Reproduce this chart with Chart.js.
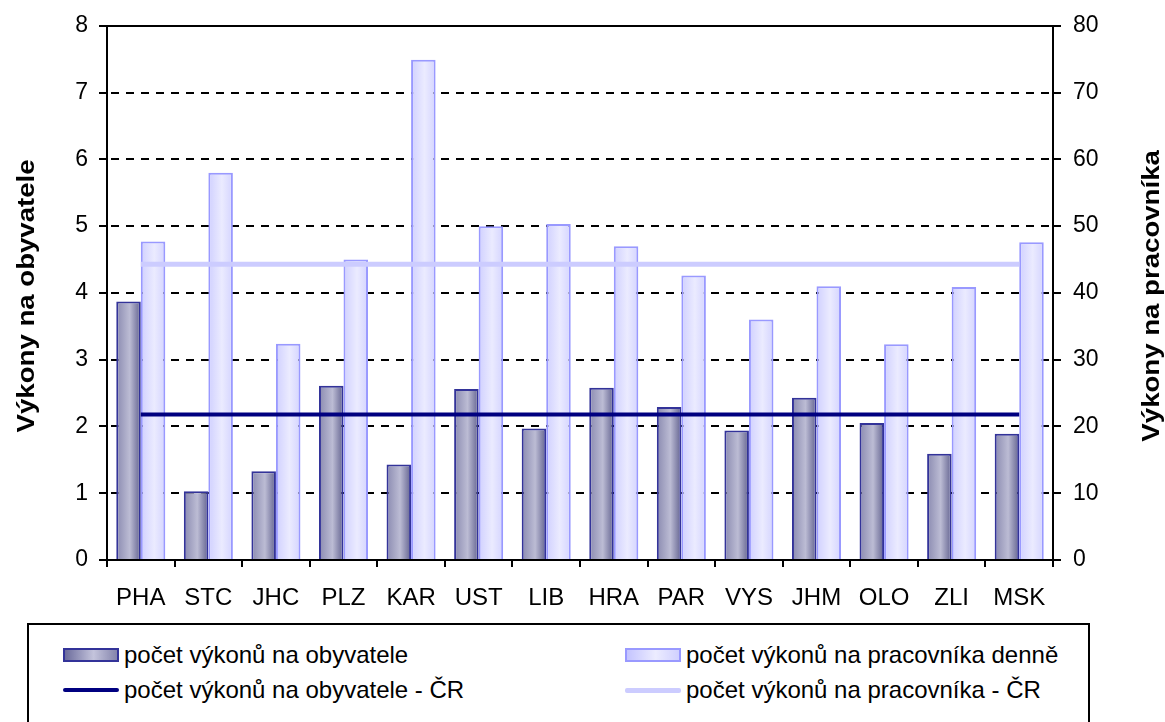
<!DOCTYPE html>
<html>
<head>
<meta charset="utf-8">
<script src="https://cdn.jsdelivr.net/npm/chart.js@4/dist/chart.umd.min.js"></script>
<style>
  body { margin: 0; background: #fff; }
  #wrap { position: relative; width: 1165px; height: 722px; overflow: hidden; }
  #legend { position: absolute; left: 27px; top: 623px; width: 1059px; height: 110px;
            border: 2px solid #000; background: #fff;
            font-family: "Liberation Sans", Arial, sans-serif; font-size: 24px; color: #000; }
  .item { position: absolute; display: flex; align-items: center; height: 30px; white-space: nowrap; }
  .sw { width: 56px; margin-right: 5px; box-sizing: border-box; }
  .barDark { height: 14px; border: 2px solid #333399; background: linear-gradient(to right, #6c6c9c, #c4c4dc 55%, #8484ac); }
  .barLight { height: 14px; border: 2px solid #9999ff; background: linear-gradient(to right, #c4c4ff, #ececff 55%, #d0d0ff); }
  .lineDark { height: 4px; background: #000080; border-radius: 2px; }
  .lineLight { height: 5px; background: #ccccff; border-radius: 2px; }
</style>
</head>
<body>
<div id="wrap">
  <canvas id="myChart" width="1165" height="722"></canvas>
  <div id="legend">
    <div class="item" style="left:34px; top:15px;"><div class="sw barDark"></div>počet výkonů na obyvatele</div>
    <div class="item" style="left:596px; top:15px;"><div class="sw barLight"></div>počet výkonů na pracovníka denně</div>
    <div class="item" style="left:34px; top:50px;"><div class="sw lineDark"></div>počet výkonů na obyvatele - ČR</div>
    <div class="item" style="left:596px; top:50px;"><div class="sw lineLight"></div>počet výkonů na pracovníka - ČR</div>
  </div>
</div>
<script>
// kraje
const regions = ["PHA", "STC", "JHC", "PLZ", "KAR", "UST", "LIB", "HRA", "PAR", "VYS", "JHM", "OLO", "ZLI", "MSK"];
// left axis - vykony na obyvatele
const perCitizen = [3.87, 1.03, 1.33, 2.61, 1.43, 2.56, 1.97, 2.58, 2.29, 1.94, 2.43, 2.05, 1.59, 1.89];
// right axis - vykony na pracovnika denne
const perWorker = [47.7, 58.0, 32.4, 45.0, 74.9, 50.0, 50.3, 47.0, 42.6, 36.0, 41.0, 32.3, 40.9, 47.6];
// CR averages
const citizenCR = 2.18;
const workerCR = 44.3;

const leftTicks = [0, 1, 2, 3, 4, 5, 6, 7, 8];
const rightTicks = [0, 10, 20, 30, 40, 50, 60, 70, 80];

const fontFamily = '"Liberation Sans", Arial, sans-serif';
const catPct = 0.726;

// gradient across one bar, side = -1 left bar, +1 right bar
function barGradient(context, side, stops) {
  const chart = context.chart;
  const xScale = chart.scales.x;
  if (!xScale || !chart.chartArea) return stops[1];
  const center = xScale.getPixelForValue(context.dataIndex);
  const w = (chart.chartArea.right - chart.chartArea.left) / regions.length * catPct / 2;
  const x0 = side < 0 ? center - w : center;
  const g = chart.ctx.createLinearGradient(x0, 0, x0 + w, 0);
  g.addColorStop(0, stops[0]);
  g.addColorStop(0.55, stops[1]);
  g.addColorStop(1, stops[2]);
  return g;
}

// dashed grid lines under the bars
const dashedGrid = {
  id: 'dashedGrid',
  beforeDatasetsDraw(chart) {
    const { ctx, chartArea } = chart;
    const y = chart.scales.y;
    ctx.save();
    ctx.strokeStyle = '#000';
    ctx.lineWidth = 2;
    leftTicks.forEach(v => {
      if (v === 0) return;
      const py = Math.round(y.getPixelForValue(v));
      ctx.setLineDash(v === 8 ? [] : [8, 7]);
      ctx.lineDashOffset = -4;
      ctx.beginPath();
      ctx.moveTo(chartArea.left, py);
      ctx.lineTo(chartArea.right, py);
      ctx.stroke();
    });
    ctx.restore();
  }
};

// axis titles, both reading bottom-to-top (slightly stretched like the original)
const axisTitles = {
  id: 'axisTitles',
  afterDraw(chart) {
    const { ctx, chartArea } = chart;
    const cy = (chartArea.top + chartArea.bottom) / 2 + 3;
    ctx.save();
    ctx.fillStyle = '#000';
    ctx.font = 'bold 24px ' + fontFamily;
    ctx.textAlign = 'center';
    ctx.textBaseline = 'middle';
    [[27, 'Výkony na obyvatele'], [1152, 'Výkony na pracovníka']].forEach(t => {
      ctx.save();
      ctx.translate(t[0], cy);
      ctx.rotate(-Math.PI / 2);
      ctx.scale(1.15, 1);
      ctx.fillText(t[1], 0, 0);
      ctx.restore();
    });
    ctx.restore();
  }
};

const ctx = document.getElementById("myChart").getContext("2d");
const chart = new Chart(ctx, {
  type: 'bar',
  data: {
    labels: regions,
    datasets: [
      {
        type: 'line',
        label: 'počet výkonů na obyvatele - ČR',
        data: regions.map(() => citizenCR),
        yAxisID: 'y',
        borderColor: '#000080',
        borderWidth: 4,
        pointRadius: 0,
        order: 0
      },
      {
        type: 'line',
        label: 'počet výkonů na pracovníka - ČR',
        data: regions.map(() => workerCR),
        yAxisID: 'y1',
        borderColor: '#ccccff',
        borderWidth: 5,
        pointRadius: 0,
        order: 0
      },
      {
        label: 'počet výkonů na obyvatele',
        data: perCitizen,
        yAxisID: 'y',
        backgroundColor: c => barGradient(c, -1, ['#8a8ab0', '#bcbcd4', '#62628f']),
        borderColor: '#333399',
        borderWidth: 2,
        borderSkipped: 'bottom',
        categoryPercentage: catPct,
        barPercentage: 1,
        order: 1
      },
      {
        label: 'počet výkonů na pracovníka denně',
        data: perWorker,
        yAxisID: 'y1',
        backgroundColor: c => barGradient(c, 1, ['#d0d0ff', '#ebebff', '#d4d4ff']),
        borderColor: '#9999ff',
        borderWidth: 2,
        borderSkipped: 'bottom',
        categoryPercentage: catPct,
        barPercentage: 1,
        order: 1
      }
    ]
  },
  options: {
    responsive: false,
    animation: false,
    layout: { padding: { top: 24, bottom: 112, left: 0, right: 0 } },
    plugins: {
      legend: { display: false },
      tooltip: { enabled: false }
    },
    scales: {
      x: {
        offset: true,
        grid: { offset: true, drawOnChartArea: false, drawTicks: true, tickLength: 7, color: '#000', lineWidth: 2 },
        border: { color: '#000', width: 2 },
        ticks: { color: '#000', padding: 17, font: { family: fontFamily, size: 24 }, maxRotation: 0, autoSkip: false },
        afterFit: s => { s.height = 50; }
      },
      y: {
        position: 'left',
        min: 0, max: 8,
        afterBuildTicks: s => { s.ticks = leftTicks.map(v => ({ value: v })); },
        grid: { drawOnChartArea: false, drawTicks: true, tickLength: 8, color: '#000', lineWidth: 2 },
        border: { color: '#000', width: 2 },
        ticks: { color: '#000', padding: 11, font: { family: fontFamily, size: 23 } },
        afterFit: s => { s.width = 107; }
      },
      y1: {
        position: 'right',
        min: 0, max: 80,
        afterBuildTicks: s => { s.ticks = rightTicks.map(v => ({ value: v })); },
        grid: { drawOnChartArea: false, drawTicks: true, tickLength: 8, color: '#000', lineWidth: 2 },
        border: { color: '#000', width: 2 },
        ticks: { color: '#000', padding: 12, font: { family: fontFamily, size: 23 } },
        afterFit: s => { s.width = 112; }
      }
    }
  },
  plugins: [dashedGrid, axisTitles]
});
</script>
</body>
</html>
